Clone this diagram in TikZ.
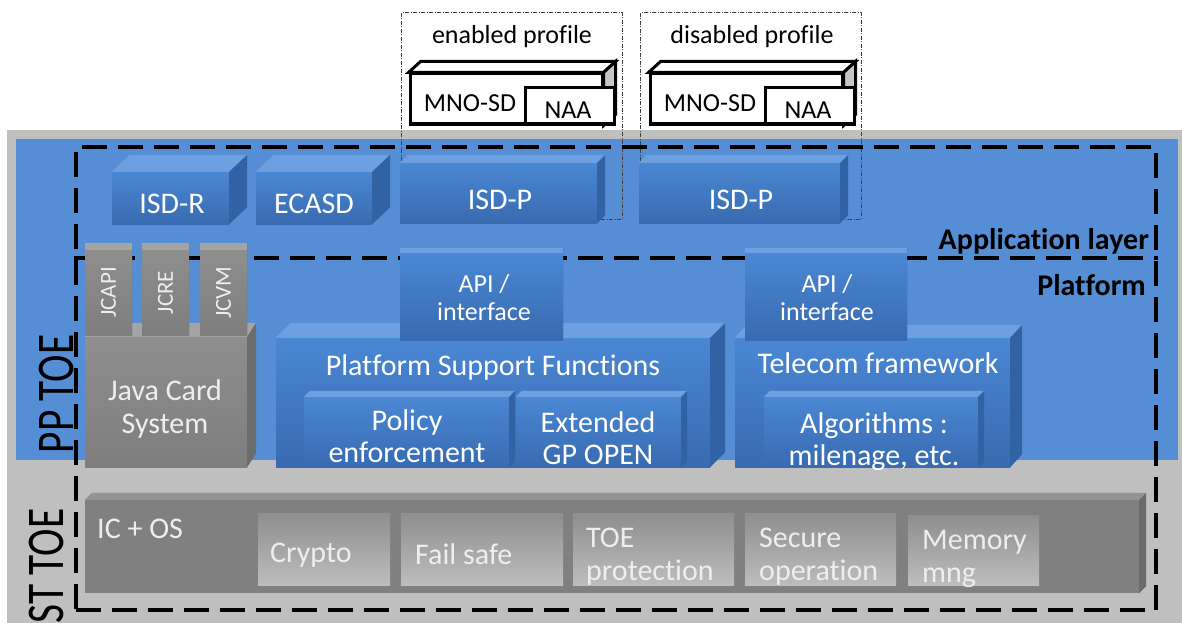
\documentclass[tikz,border=0pt]{standalone}
\usepackage{fontspec}
\setmainfont{Carlito}[Ligatures=NoCommon]
\usetikzlibrary{calc}

\definecolor{bggray}{HTML}{BFBFBF}
\definecolor{bgblue}{HTML}{558ED5}
\definecolor{bluehi}{HTML}{4A87D4}
\definecolor{bluelo}{HTML}{386BB0}
\definecolor{bluetopc}{HTML}{6DA0E0}
\definecolor{bluesidec}{HTML}{3162A3}
\definecolor{grayhi}{HTML}{8E8E8E}
\definecolor{graylo}{HTML}{7E7E7E}
\definecolor{graytopc}{HTML}{A4A4A4}
\definecolor{graysidec}{HTML}{6C6C6C}
\definecolor{icfill}{HTML}{808080}
\definecolor{ictopc}{HTML}{949494}
\definecolor{icsidec}{HTML}{6A6A6A}
\definecolor{cellhi}{HTML}{8E8E8E}
\definecolor{celllo}{HTML}{BDBDBD}
\definecolor{lighttxt}{HTML}{EEEEEE}

% top and right faces of a block drawn as a node
\newcommand{\boxfaces}[4]{%
  \path[#4top] (#1.north west) -- ++(#2,-#3) -- ([shift={(#2,-#3)}]#1.north east) -- (#1.north east) -- cycle;
  \path[#4side] (#1.north east) -- ++(#2,-#3) -- ([shift={(#2,-#3)}]#1.south east) -- (#1.south east) -- cycle;}

\tikzset{
  wh/.style 2 args={minimum width=#1pt, minimum height=#2pt, inner sep=0pt},
  bluefront/.style={top color=bluehi, bottom color=bluelo, draw=none},
  bluetop/.style={fill=bluetopc},
  blueside/.style={fill=bluesidec},
  grayfront/.style={top color=grayhi, bottom color=graylo, draw=none},
  graytop/.style={fill=graytopc},
  grayside/.style={fill=graysidec},
  icfront/.style={fill=icfill, draw=none},
  ictop/.style={fill=ictopc},
  icside/.style={fill=icsidec},
  cellbox/.style={top color=cellhi, bottom color=celllo, draw=none},
  mnofront/.style={fill=white, draw=black, line width=3pt},
  mnotop/.style={fill=white, draw=black, line width=3pt},
  mnoside/.style={fill=gray!45, draw=black, line width=3pt},
  profframe/.style={draw=black!75, line width=1pt, dash pattern=on 4pt off 1.5pt on 1pt off 1.5pt},
  toeframe/.style={draw=black, line width=4pt, dash pattern=on 25pt off 11pt},
  toedash/.style={draw=black, line width=4pt, dash pattern=on 25pt off 11pt},
  wtxt/.style={text=white, font=\fontsize{30}{32}\selectfont, align=center, inner sep=0pt},
  gtxt/.style={text=lighttxt, font=\fontsize{30}{33}\selectfont, align=left, inner sep=0pt},
  proflbl/.style={text=black, font=\fontsize{26}{28}\selectfont, inner sep=0pt},
  layerlbl/.style={text=black, font=\bfseries\fontsize{30}{32}\selectfont, inner sep=0pt},
  toelbl/.style={text=black, font=\fontsize{53}{53}\selectfont, inner sep=0pt},
}

\begin{document}
\begin{tikzpicture}[x=1pt, y=-1pt]
    \useasboundingbox (0,0) rectangle (1182,623);

    % backgrounds
    \fill[bggray] (7,130) rectangle (1182,623);
    \fill[bgblue] (16,139) rectangle (1178,460);

    % profiles
    \node[profframe, wh={221}{206}] (enprof) at (511.5,116) {};
    \node[profframe, wh={221}{206}] (disprof) at (750.5,116) {};
    \node[proflbl] (enlbl) at (512,37) {enabled profile};
    \node[proflbl] (dislbl) at (752,37) {disabled profile};

    \node[mnofront, wh={192}{50}] (mnoa) at (506,99) {};
    \boxfaces{mnoa}{12}{11}{mno}
    \node[mnofront, wh={89}{36}] (naaa) at (569.5,106) {};
    \node[proflbl] (mnoatxt) at (470,103) {MNO-SD};
    \node[proflbl] (naaatxt) at (568,110) {NAA};

    \node[mnofront, wh={192}{50}] (mnob) at (746,99) {};
    \boxfaces{mnob}{12}{11}{mno}
    \node[mnofront, wh={89}{36}] (naab) at (809.5,106) {};
    \node[proflbl] (mnobtxt) at (710,103) {MNO-SD};
    \node[proflbl] (naabtxt) at (808,110) {NAA};

    % application layer
    \node[bluefront, wh={117}{52}] (isdr) at (170.5,198) {};
    \boxfaces{isdr}{18}{17}{blue}
    \node[wtxt] (isdrtxt) at (172,204) {ISD-R};

    \node[bluefront, wh={116}{52}] (ecasd) at (314,198) {};
    \boxfaces{ecasd}{18}{17}{blue}
    \node[wtxt] (ecasdtxt) at (314,204) {ECASD};

    \node[bluefront, wh={197}{60}] (isdpa) at (498.5,193) {};
    \boxfaces{isdpa}{8}{8}{blue}
    \node[wtxt] (isdpatxt) at (500,200) {ISD-P};

    \node[bluefront, wh={201}{60}] (isdpb) at (739.5,193) {};
    \boxfaces{isdpb}{8}{8}{blue}
    \node[wtxt] (isdpbtxt) at (741,200) {ISD-P};

    % TOE labels and frame
    \node[toelbl, rotate=90] (pptoe) at (56,394) {\scalebox{0.78}[1]{PP TOE}};
    \node[toelbl, rotate=90] (sttoe) at (46,566) {\scalebox{0.78}[1]{ST TOE}};

    \node[toeframe, wh={1080}{463}] (toe) at (616,378.5) {};
    \coordinate (split) at (0,258);
    \draw[toedash] (toe.west |- split) -- (toe.east |- split);
    \node[layerlbl, anchor=east] (applbl) at (1149,241) {Application layer};
    \node[layerlbl, anchor=east] (platlbl) at (1146,285) {Platform};

    % Java Card
    \node[grayfront, wh={162}{130}] (jcs) at (166,402) {};
    \boxfaces{jcs}{9}{14}{gray}
    \node[gtxt, align=center] (jcstxt) at (165,409) {Java Card\\System};

    \node[grayfront, wh={47}{85}] (jcapi) at (108.5,292.5) {};
    \boxfaces{jcapi}{0}{7}{gray}
    \node[gtxt, rotate=90, font=\fontsize{23}{23}\selectfont] (jcapitxt) at (jcapi) {JCAPI};
    \node[grayfront, wh={47}{85}] (jcre) at (165.5,292.5) {};
    \boxfaces{jcre}{0}{7}{gray}
    \node[gtxt, rotate=90, font=\fontsize{23}{23}\selectfont] (jcretxt) at (jcre) {JCRE};
    \node[grayfront, wh={47}{85}] (jcvm) at (223.5,292.5) {};
    \boxfaces{jcvm}{0}{7}{gray}
    \node[gtxt, rotate=90, font=\fontsize{23}{23}\selectfont] (jcvmtxt) at (jcvm) {JCVM};

    % platform support functions
    \node[bluefront, wh={434}{129}] (psf) at (493,402.5) {};
    \boxfaces{psf}{15}{15}{blue}
    \node[wtxt] (psftxt) at (493,367) {Platform Support Functions};

    \node[bluefront, wh={205}{70}] (policy) at (406.5,432) {};
    \boxfaces{policy}{6}{6}{blue}
    \node[wtxt] (policytxt) at (407,436) {Policy\\enforcement};

    \node[bluefront, wh={165}{70}] (extgp) at (598.5,432) {};
    \boxfaces{extgp}{6}{6}{blue}
    \node[wtxt] (extgptxt) at (598,438.5) {Extended\\GP OPEN};

    % telecom framework
    \node[bluefront, wh={275}{129}] (telecom) at (872.5,402.5) {};
    \boxfaces{telecom}{12}{13}{blue}
    \node[wtxt] (telecomtxt) at (878,363) {Telecom framework};

    \node[bluefront, wh={214}{70}] (algo) at (871,432) {};
    \boxfaces{algo}{6}{6}{blue}
    \node[wtxt] (algotxt) at (874,441.5) {Algorithms :\\milenage, etc.};

    % interfaces
    \node[bluefront, wh={163}{87}] (apia) at (481.5,296.5) {};
    \boxfaces{apia}{0}{5}{blue}
    \node[wtxt, font=\fontsize{26}{28}\selectfont] (apiatxt) at (484,298) {API /\\interface};

    \node[bluefront, wh={162}{87}] (apib) at (826,296.5) {};
    \boxfaces{apib}{0}{5}{blue}
    \node[wtxt, font=\fontsize{26}{28}\selectfont] (apibtxt) at (827,298) {API /\\interface};

    % IC + OS
    \node[icfront, wh={1054}{93}] (icos) at (612,546.5) {};
    \boxfaces{icos}{7}{7}{ic}
    \node[gtxt, anchor=west] (icostxt) at (97,529) {IC + OS};

    \node[cellbox, wh={132}{72}] (crypto) at (324,549) {};
    \node[gtxt, anchor=west] (cryptotxt) at (270,555) {Crypto};
    \node[cellbox, wh={162}{72}] (failsafe) at (482,549) {};
    \node[gtxt, anchor=west] (failsafetxt) at (415,554) {Fail safe};
    \node[cellbox, wh={161}{72}] (toeprot) at (653.5,549) {};
    \node[gtxt, anchor=west] (toeprottxt) at (586,556.5) {TOE\\protection};
    \node[cellbox, wh={151}{72}] (secop) at (820.5,549) {};
    \node[gtxt, anchor=west] (secoptxt) at (759,556.5) {Secure\\operation};
    \node[cellbox, wh={131}{70}] (memmng) at (973.5,550) {};
    \node[gtxt, anchor=west] (memmngtxt) at (922,558.5) {Memory\\mng};
\end{tikzpicture}
\end{document}
